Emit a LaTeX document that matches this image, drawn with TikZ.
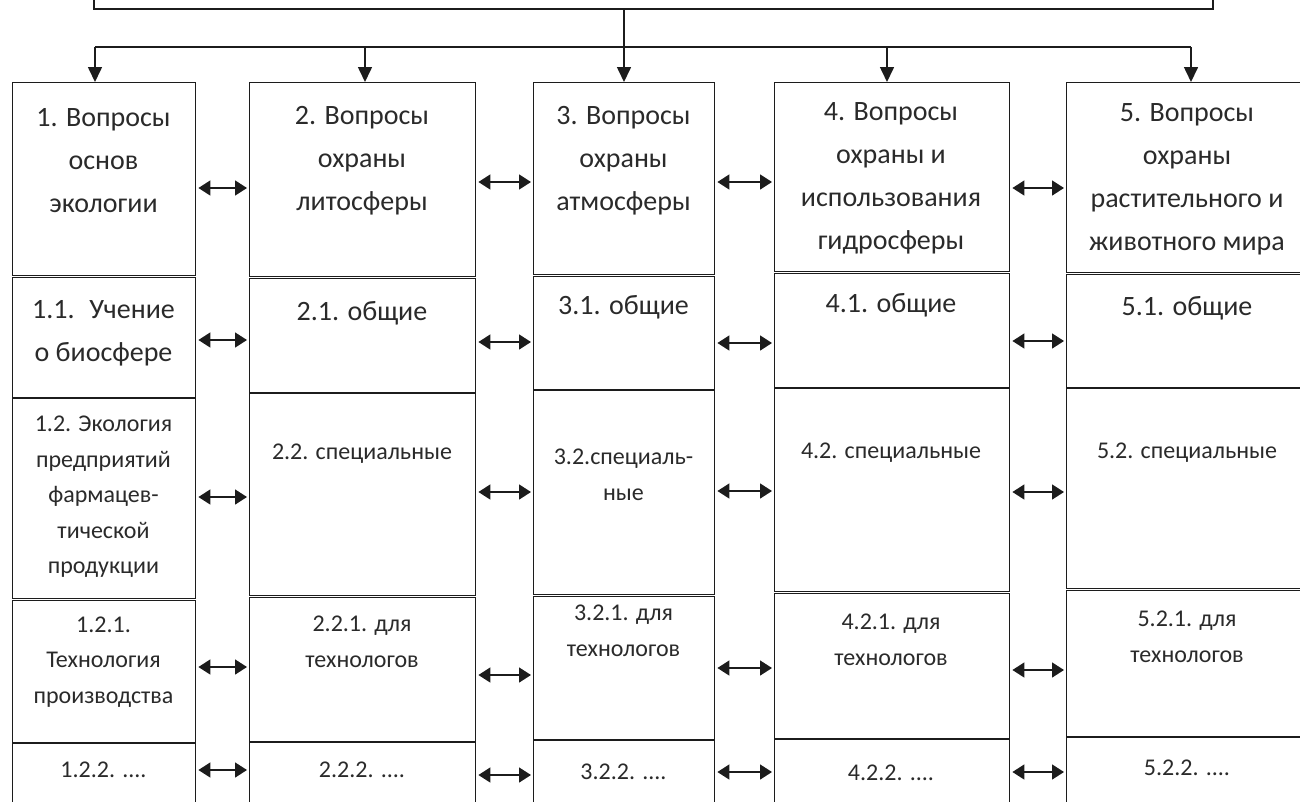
\documentclass[tikz,border=0pt]{standalone}
\usepackage{fontspec}
\setmainfont{Carlito}
\usetikzlibrary{arrows.meta}
\definecolor{ink}{HTML}{1C1C1C}
\definecolor{txtgray}{HTML}{2A2A2A}

\begin{document}
\begin{tikzpicture}[x=1pt,y=-1pt,
 cell/.style={draw=ink,line width=1.4pt,anchor=north west,inner sep=0pt},
 big/.style={align=center,inner sep=0pt,text=txtgray,font=\fontsize{28}{43}\selectfont},
 small/.style={align=center,inner sep=0pt,text=txtgray,font=\fontsize{24}{35.5}\selectfont},
 bus/.style={draw=ink,line width=2.8pt},
 down/.style={draw=ink,line width=1.6pt,-{Triangle[length=15pt,width=14pt]}},
 both/.style={draw=ink,line width=1.6pt,{Triangle[length=12pt,width=15pt]}-{Triangle[length=12pt,width=15pt]},
  shorten <=2pt,shorten >=2pt}]
\useasboundingbox (0,0) rectangle (1300,801);
\clip (0,0) rectangle (1300,801);

% top box, cut by the page edge
\node[cell,line width=1.6pt,anchor=south west,minimum width=1119pt,minimum height=60pt] (top) at (93,10) {};
\coordinate (k1) at (95,47);
\coordinate (k2) at (365,47);
\coordinate (k3) at (624,47);
\coordinate (k4) at (887,47);
\coordinate (k5) at (1191,47);

% column 1
\node[cell,minimum width=183pt,minimum height=193pt] (q1) at (12,82) {};
\node[cell,minimum width=183pt,minimum height=120pt] (a1) at (12,276.5) {};
\node[cell,minimum width=183pt,minimum height=200pt] (b1) at (12,398) {};
\node[cell,minimum width=183pt,minimum height=142pt] (c1) at (12,599.5) {};
\node[cell,minimum width=183pt,minimum height=70pt] (d1) at (12,743) {};
% column 2
\node[cell,minimum width=226pt,minimum height=194pt] (q2) at (249,82) {};
\node[cell,minimum width=226pt,minimum height=114pt] (a2) at (249,277.5) {};
\node[cell,minimum width=226pt,minimum height=202pt] (b2) at (249,393) {};
\node[cell,minimum width=226pt,minimum height=144pt] (c2) at (249,596.5) {};
\node[cell,minimum width=226pt,minimum height=70pt] (d2) at (249,742) {};
% column 3
\node[cell,minimum width=181pt,minimum height=192pt] (q3) at (533,82) {};
\node[cell,minimum width=181pt,minimum height=113pt] (a3) at (533,275.5) {};
\node[cell,minimum width=181pt,minimum height=204pt] (b3) at (533,390) {};
\node[cell,minimum width=181pt,minimum height=143pt] (c3) at (533,595.5) {};
\node[cell,minimum width=181pt,minimum height=70pt] (d3) at (533,740) {};
% column 4
\node[cell,minimum width=235pt,minimum height=189pt] (q4) at (774,82) {};
\node[cell,minimum width=235pt,minimum height=114pt] (a4) at (774,272.5) {};
\node[cell,minimum width=235pt,minimum height=203pt] (b4) at (774,388) {};
\node[cell,minimum width=235pt,minimum height=145pt] (c4) at (774,592.5) {};
\node[cell,minimum width=235pt,minimum height=70pt] (d4) at (774,739) {};
% column 5
\node[cell,minimum width=242pt,minimum height=190pt] (q5) at (1066,82) {};
\node[cell,minimum width=242pt,minimum height=113pt] (a5) at (1066,273.5) {};
\node[cell,minimum width=242pt,minimum height=200pt] (b5) at (1066,388) {};
\node[cell,minimum width=242pt,minimum height=146pt] (c5) at (1066,589.5) {};
\node[cell,minimum width=242pt,minimum height=70pt] (d5) at (1066,737) {};

% texts
\node[big] (tq1) at (103.5,161) {1. Вопросы\\основ\\экологии};
\node[big] (tq2) at (362,161) {2. Вопросы\\охраны\\литосферы};
\node[big] (tq3) at (623.5,161) {3. Вопросы\\охраны\\атмосферы};
\node[big] (tq4) at (891,178) {4. Вопросы\\охраны и\\использования\\гидросферы};
\node[big] (tq5) at (1187,179) {5. Вопросы\\охраны\\растительного и\\животного мира};
\node[big] (ta1) at (103.5,333) {1.1.~ Учение\\о биосфере};
\node[big] (ta2) at (362,313) {2.1. общие};
\node[big] (ta3) at (623.5,307) {3.1. общие};
\node[big] (ta4) at (891,305) {4.1. общие};
\node[big] (ta5) at (1187,308) {5.1. общие};
\node[small] (tb1) at (103.5,497) {1.2. Экология\\предприятий\\фармацев-\\тической\\продукции};
\node[small] (tb2) at (362,454) {2.2. специальные};
\node[small] (tb3) at (623.5,475) {3.2.специаль-\\ные};
\node[small] (tb4) at (891,453) {4.2. специальные};
\node[small] (tb5) at (1187,453) {5.2. специальные};
\node[small] (tc1) at (103.5,662) {1.2.1.\\Технология\\производства};
\node[small] (tc2) at (362,642) {2.2.1. для\\технологов};
\node[small] (tc3) at (623.5,631) {3.2.1. для\\технологов};
\node[small] (tc4) at (891,640) {4.2.1. для\\технологов};
\node[small] (tc5) at (1187,637) {5.2.1. для\\технологов};
\node[small] (td1) at (103.5,770) {1.2.2. ....};
\node[small] (td2) at (362,770) {2.2.2. ....};
\node[small] (td3) at (623.5,772) {3.2.2. ....};
\node[small] (td4) at (891,773) {4.2.2. ....};
\node[small] (td5) at (1187,768) {5.2.2. ....};

% distribution from the top box
\draw[bus] (top.south -| k3) -- (k3);
\draw[bus] (k1) -- (k5);
\draw[down] (k1) -- (k1 |- q1.north);
\draw[down] (k2) -- (k2 |- q2.north);
\draw[down] (k3) -- (k3 |- q3.north);
\draw[down] (k4) -- (k4 |- q4.north);
\draw[down] (k5) -- (k5 |- q5.north);

% links between neighbouring columns
\draw[both] (q1.east |- 0,188) -- (q2.west |- 0,188);
\draw[both] (q2.east |- 0,182) -- (q3.west |- 0,182);
\draw[both] (q3.east |- 0,182) -- (q4.west |- 0,182);
\draw[both] (q4.east |- 0,188) -- (q5.west |- 0,188);
\draw[both] (a1.east |- 0,340) -- (a2.west |- 0,340);
\draw[both] (a2.east |- 0,342) -- (a3.west |- 0,342);
\draw[both] (a3.east |- 0,343) -- (a4.west |- 0,343);
\draw[both] (a4.east |- 0,341) -- (a5.west |- 0,341);
\draw[both] (b1.east |- 0,497) -- (b2.west |- 0,497);
\draw[both] (b2.east |- 0,492) -- (b3.west |- 0,492);
\draw[both] (b3.east |- 0,491) -- (b4.west |- 0,491);
\draw[both] (b4.east |- 0,492) -- (b5.west |- 0,492);
\draw[both] (c1.east |- 0,667) -- (c2.west |- 0,667);
\draw[both] (c2.east |- 0,675) -- (c3.west |- 0,675);
\draw[both] (c3.east |- 0,668) -- (c4.west |- 0,668);
\draw[both] (c4.east |- 0,670) -- (c5.west |- 0,670);
\draw[both] (d1.east |- 0,770) -- (d2.west |- 0,770);
\draw[both] (d2.east |- 0,775) -- (d3.west |- 0,775);
\draw[both] (d3.east |- 0,772) -- (d4.west |- 0,772);
\draw[both] (d4.east |- 0,772) -- (d5.west |- 0,772);
\end{tikzpicture}
\end{document}
